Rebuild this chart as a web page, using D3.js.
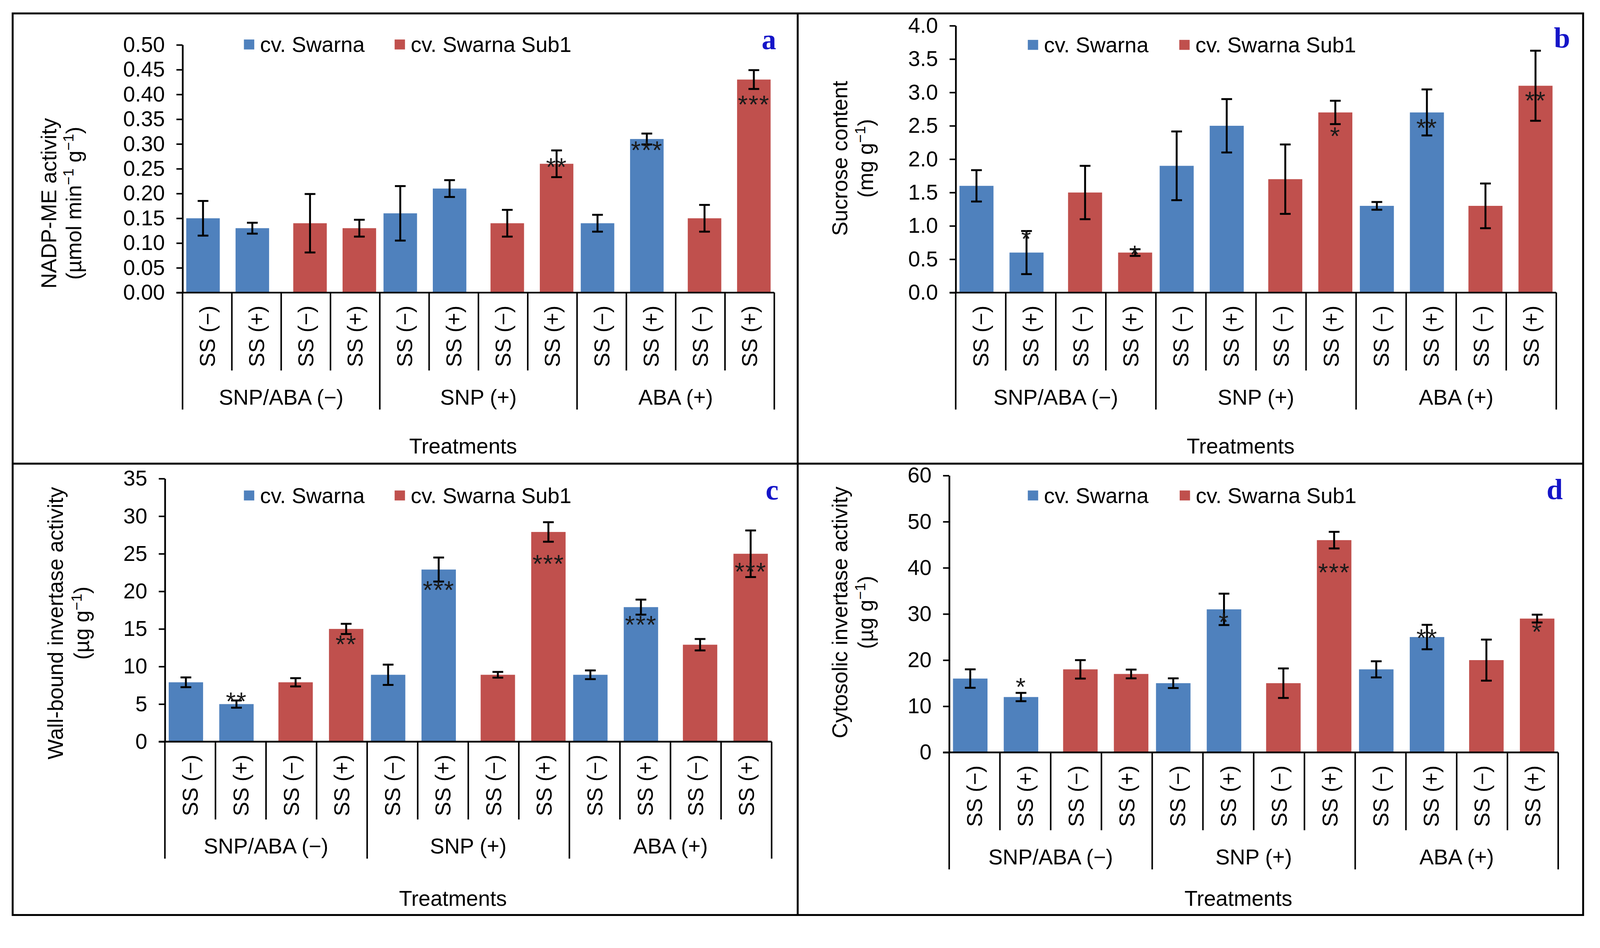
<!DOCTYPE html>
<html><head><meta charset="utf-8">
<script src="https://cdn.jsdelivr.net/npm/d3@7"></script>
<style>html,body{margin:0;padding:0;background:#fff;overflow:hidden} svg{display:block;width:100vw;height:100vh}</style>
</head><body>
<svg id="chart" viewBox="0 0 4172 2427" preserveAspectRatio="xMidYMin meet"></svg>
<script>
// ---------------- DATA ----------------
const categories = ["SS (−)","SS (+)","SS (−)","SS (+)","SS (−)","SS (+)","SS (−)","SS (+)","SS (−)","SS (+)","SS (−)","SS (+)"];
const groups = ["SNP/ABA (−)","SNP (+)","ABA (+)"];
const seriesNames = ["cv. Swarna","cv. Swarna Sub1"];
const cultivarIndex = [0,0,1,1,0,0,1,1,0,0,1,1];
const xTitle = "Treatments";

// (a) NADP-ME activity
const nadpValues = [0.15,0.13,0.14,0.13,0.16,0.21,0.14,0.26,0.14,0.31,0.15,0.43];
const nadpErrors = [0.035,0.011,0.059,0.017,0.055,0.017,0.027,0.027,0.017,0.011,0.027,0.019];
const nadpStars  = ["","","","","","","","**","","***","","***"];
const nadpStarAt = [null,null,null,null,null,null,null,0.266,null,0.300,null,0.392];
const nadpTicks  = [0,0.05,0.10,0.15,0.20,0.25,0.30,0.35,0.40,0.45,0.50];

// (b) Sucrose content
const sucroseValues = [1.6,0.6,1.5,0.6,1.9,2.5,1.7,2.7,1.3,2.7,1.3,3.1];
const sucroseErrors = [0.235,0.323,0.40,0.05,0.515,0.40,0.52,0.175,0.058,0.345,0.335,0.525];
const sucroseStars  = ["","*","","*","","","","*","","**","","**"];
const sucroseStarAt = [null,0.90,null,0.665,null,null,null,2.44,null,2.56,null,2.97];
const sucroseTicks  = [0,0.5,1.0,1.5,2.0,2.5,3.0,3.5,4.0];

// (c) Wall-bound invertase activity
const wallValues = [7.9,5.0,7.9,15.0,8.9,22.9,8.9,27.9,8.9,17.9,12.9,25.0];
const wallErrors = [0.65,0.48,0.55,0.68,1.35,1.6,0.38,1.3,0.58,1.0,0.76,3.1];
const wallStars  = ["","**","","**","","***","","***","","***","","***"];
const wallStarAt = [null,6.19,null,13.79,null,21.0,null,24.46,null,16.39,null,23.43];
const wallTicks  = [0,5,10,15,20,25,30,35];

// (d) Cytosolic invertase activity
const cytoValues = [16,12,18,17,15,31,15,46,18,25,20,29];
const cytoErrors = [2.0,0.9,2.0,0.95,1.05,3.4,3.2,1.8,1.75,2.65,4.45,0.85];
const cytoStars  = ["","*","","","","*","","***","","**","","*"];
const cytoStarAt = [null,15.5,null,null,null,29.6,null,40.3,null,26.1,null,27.5];
const cytoTicks  = [0,10,20,30,40,50,60];

// ---------------- STYLE / LAYOUT ----------------
const COLORS = ["#4F81BD","#C0504D"];
const FONT = "'Liberation Sans', Arial, sans-serif";
const FS = 56;

const panels = [
  {values:nadpValues, errors:nadpErrors, stars:nadpStars, starAt:nadpStarAt, ticks:nadpTicks, fmt:d3.format(".2f"),
   x0:476, x1:2019, yTop:117, yZero:763,
   title:[[["NADP-ME activity",0]],[["(µmol min",0],["−1",1],["  g",0],["−1",1],[")",0]]],
   titleX:[127,192], titleY:530, legendX:[636,1029], legendY:116, letter:"a", letterX:2024, letterY:128, treatY:1183},
  {values:sucroseValues, errors:sucroseErrors, stars:sucroseStars, starAt:sucroseStarAt, ticks:sucroseTicks, fmt:d3.format(".1f"),
   x0:2492, x1:4058, yTop:67, yZero:763,
   title:[[["Sucrose content",0]],[["(mg  g",0],["−1",1],[")",0]]],
   titleX:[2190,2257], titleY:413, legendX:[2680,3075], legendY:117, letter:"b", letterX:4094, letterY:124, treatY:1183},
  {values:wallValues, errors:wallErrors, stars:wallStars, starAt:wallStarAt, ticks:wallTicks, fmt:d3.format("d"),
   x0:430, x1:2012, yTop:1248, yZero:1934,
   title:[[["Wall-bound invertase activity",0]],[["(µg  g",0],["−1",1],[")",0]]],
   titleX:[144,213], titleY:1625, legendX:[636,1029], legendY:1292, letter:"c", letterX:2030, letterY:1303, treatY:2362},
  {values:cytoValues, errors:cytoErrors, stars:cytoStars, starAt:cytoStarAt, ticks:cytoTicks, fmt:d3.format("d"),
   x0:2475, x1:4063, yTop:1240, yZero:1962,
   title:[[["Cytosolic invertase activity",0]],[["(µg  g",0],["−1",1],[")",0]]],
   titleX:[2190,2257], titleY:1597, legendX:[2680,3076], legendY:1292, letter:"d", letterX:4075, letterY:1302, treatY:2362}
];

const svg = d3.select("#chart");
svg.append("rect").attr("width",4172).attr("height",2427).attr("fill","#fff");

// frame
const frame = svg.append("g").attr("stroke","#000").attr("stroke-width",5).attr("fill","none");
frame.append("rect").attr("x",33).attr("y",35).attr("width",4128-33).attr("height",2386-35);
frame.append("line").attr("x1",2080).attr("x2",2080).attr("y1",35).attr("y2",2386);
frame.append("line").attr("x1",33).attr("x2",4128).attr("y1",1209).attr("y2",1209);

panels.forEach(p => {
  const g = svg.append("g");
  const idx = d3.range(categories.length);
  const x = d3.scaleBand().domain(idx).range([p.x0, p.x1]).padding(0);
  const y = d3.scaleLinear().domain([0, d3.max(p.ticks)]).range([p.yZero, p.yTop]);
  const bw = x.bandwidth();
  const barW = bw * 0.68;
  const shift = bw * 0.085;
  const cx = i => x(i) + bw/2 + (cultivarIndex[i] === 0 ? -shift : shift);

  // bars
  g.selectAll("rect.bar").data(idx).join("rect")
    .attr("x", i => cx(i) - barW/2)
    .attr("y", i => y(p.values[i]))
    .attr("width", barW)
    .attr("height", i => y(0) - y(p.values[i]))
    .attr("fill", i => COLORS[cultivarIndex[i]]);

  // y axis
  const yAxis = d3.axisLeft(y).tickValues(p.ticks).tickFormat(p.fmt).tickSize(16).tickSizeOuter(0).tickPadding(30);
  const ya = g.append("g").attr("transform", `translate(${p.x0},0)`).call(yAxis);
  ya.select(".domain").attr("stroke","#000").attr("stroke-width",4.5);
  ya.selectAll(".tick line").attr("stroke","#000").attr("stroke-width",4);
  ya.selectAll(".tick text").attr("font-family",FONT).attr("font-size",FS).attr("fill","#000");

  // x axis line
  g.append("line").attr("x1",p.x0-16).attr("x2",p.x1).attr("y1",y(0)).attr("y2",y(0))
    .attr("stroke","#000").attr("stroke-width",4.5);

  // category separators
  d3.range(categories.length+1).forEach(k => {
    const xx = k < categories.length ? x(k) : p.x1;
    const isGroup = k % 4 === 0;
    g.append("line").attr("x1",xx).attr("x2",xx).attr("y1",y(0))
      .attr("y2", y(0) + (isGroup ? 305 : 203))
      .attr("stroke","#000").attr("stroke-width",4);
  });

  // category labels
  g.selectAll("text.cat").data(idx).join("text")
    .attr("transform", i => `translate(${x(i)+bw/2},${y(0)+34}) rotate(-90)`)
    .attr("text-anchor","end").attr("dy","0.35em")
    .attr("font-family",FONT).attr("font-size",FS).attr("fill","#000")
    .text(i => categories[i]);

  // group labels
  groups.forEach((gr, j) => {
    const gx = (x(j*4) + (j*4+4 < categories.length ? x(j*4+4) : p.x1)) / 2;
    g.append("text").attr("x",gx).attr("y",y(0)+292).attr("text-anchor","middle")
      .attr("font-family",FONT).attr("font-size",FS).attr("fill","#000").text(gr);
  });

  // x title
  g.append("text").attr("x",(p.x0+p.x1)/2 - 40).attr("y",p.treatY).attr("text-anchor","middle")
    .attr("font-family",FONT).attr("font-size",FS).attr("fill","#000").text(xTitle);

  // error bars
  const eb = g.append("g").attr("stroke","#000").attr("stroke-width",5);
  idx.forEach(i => {
    const c = cx(i);
    const hi = y(p.values[i] + p.errors[i]), lo = y(p.values[i] - p.errors[i]);
    eb.append("line").attr("x1",c).attr("x2",c).attr("y1",hi).attr("y2",lo);
    eb.append("line").attr("x1",c-14).attr("x2",c+14).attr("y1",hi).attr("y2",hi);
    eb.append("line").attr("x1",c-14).attr("x2",c+14).attr("y1",lo).attr("y2",lo);
  });

  // significance stars
  const SFS = 66;
  g.selectAll("text.star").data(idx.filter(i => p.stars[i])).join("text")
    .attr("x", i => cx(i)).attr("y", i => y(p.starAt[i]) + 0.59*SFS)
    .attr("text-anchor","middle").attr("font-family",FONT).attr("font-size",SFS)
    .attr("letter-spacing",2).attr("fill","#1a1a1a")
    .text(i => p.stars[i]);

  // y title
  p.title.forEach((line, li) => {
    const t = g.append("text")
      .attr("transform",`translate(${p.titleX[li]},${p.titleY}) rotate(-90)`)
      .attr("text-anchor","middle").attr("font-family",FONT).attr("font-size",FS).attr("fill","#000");
    let first = true, raised = false;
    line.forEach(([s, sup]) => {
      const ts = t.append("tspan").text(s);
      if (first) { ts.attr("dy", "0.35em"); first = false; }
      if (sup) { ts.attr("font-size", FS*0.68).attr("dy", raised ? 0 : -20); raised = true; }
      else if (raised) { ts.attr("dy", 20); raised = false; }
    });
  });

  // legend
  seriesNames.forEach((s, k) => {
    g.append("rect").attr("x",p.legendX[k]).attr("y",p.legendY-13).attr("width",27).attr("height",26)
      .attr("fill",COLORS[k]);
    g.append("text").attr("x",p.legendX[k]+42).attr("y",p.legendY).attr("dy","0.35em")
      .attr("font-family",FONT).attr("font-size",FS).attr("fill","#000").text(s);
  });

  // panel letter
  g.append("text").attr("x",p.letterX).attr("y",p.letterY).attr("text-anchor","end")
    .attr("font-family","'Liberation Serif','Times New Roman',serif").attr("font-weight","bold")
    .attr("font-size",76).attr("fill","#1515c8").text(p.letter);
});
</script>
</body></html>
